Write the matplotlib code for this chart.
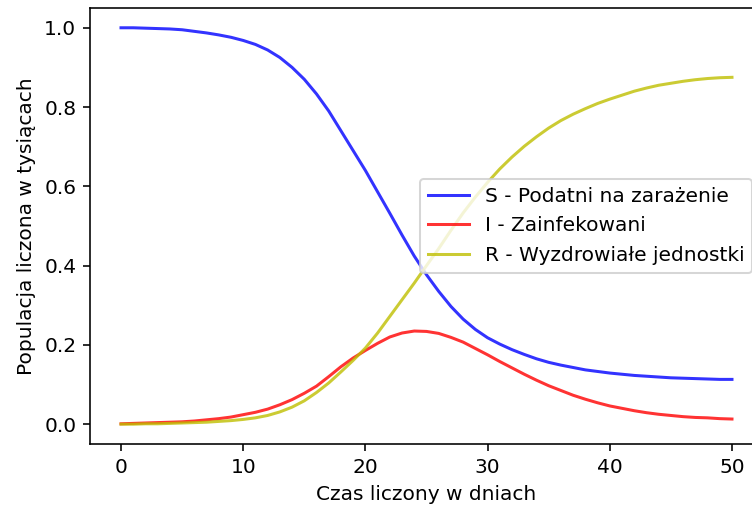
import numpy as np
import matplotlib
matplotlib.use("Agg")
from matplotlib import pyplot as plt

# czas w dniach
t = list(range(51))
# wartości (co 1 dzień)
S = [1.000, 1.000, 0.999, 0.998, 0.997, 0.995, 0.991, 0.987, 0.982, 0.976,
     0.968, 0.958, 0.944, 0.925, 0.900, 0.870, 0.833, 0.790, 0.740, 0.690,
     0.640, 0.586, 0.532, 0.477, 0.424, 0.377, 0.335, 0.297, 0.265, 0.239,
     0.218, 0.202, 0.188, 0.176, 0.165, 0.156, 0.149, 0.143, 0.137, 0.133,
     0.129, 0.126, 0.123, 0.121, 0.119, 0.117, 0.116, 0.115, 0.114, 0.113, 0.113]
I = [0.001, 0.002, 0.003, 0.004, 0.005, 0.006, 0.008, 0.011, 0.014, 0.018,
     0.024, 0.030, 0.038, 0.049, 0.062, 0.078, 0.096, 0.120, 0.145, 0.167,
     0.186, 0.204, 0.220, 0.230, 0.235, 0.234, 0.229, 0.219, 0.207, 0.191,
     0.175, 0.158, 0.142, 0.126, 0.111, 0.097, 0.085, 0.073, 0.063, 0.054,
     0.046, 0.040, 0.034, 0.029, 0.025, 0.022, 0.019, 0.017, 0.016, 0.014, 0.013]
R = [0.000, 0.000, 0.001, 0.001, 0.002, 0.003, 0.004, 0.005, 0.007, 0.009,
     0.012, 0.016, 0.022, 0.031, 0.043, 0.059, 0.080, 0.104, 0.132, 0.161,
     0.192, 0.230, 0.272, 0.314, 0.356, 0.400, 0.443, 0.489, 0.533, 0.573,
     0.610, 0.644, 0.674, 0.701, 0.725, 0.747, 0.766, 0.782, 0.796, 0.809,
     0.820, 0.830, 0.840, 0.848, 0.855, 0.860, 0.865, 0.869, 0.872, 0.874, 0.875]

# obrazek 752x510 przy dpi 145
fig = plt.figure(figsize=(752 / 145, 510 / 145), dpi=145)
ax = fig.add_axes([0.1203, 0.1294, 0.8937, 0.855])
ax.plot(t, S, 'b', alpha=0.8, label='S - Podatni na zarażenie')
ax.plot(t, I, 'r', alpha=0.8, label='I - Zainfekowani')
ax.plot(t, R, 'y', alpha=0.8, label='R - Wyzdrowiałe jednostki')
ax.set_xlabel('Czas liczony w dniach')
ax.set_ylabel('Populacja liczona w tysiącach')
ax.legend(loc='center right')
fig.savefig('out.png', dpi=145)
